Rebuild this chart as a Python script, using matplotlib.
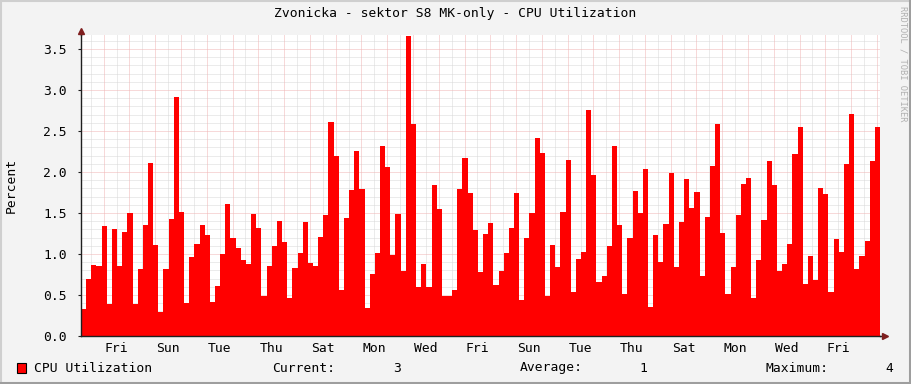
import numpy as np
import matplotlib
matplotlib.use("Agg")
import matplotlib.pyplot as plt
from matplotlib.lines import Line2D
from matplotlib.patches import Rectangle

# ---------------- data ----------------
title = "Zvonicka - sektor S8 MK-only - CPU Utilization"
cpu = [
    0.33, 0.70, 0.87, 0.85, 1.34, 0.39, 1.30, 0.85, 1.27, 1.50, 0.39, 0.82, 1.35, 2.11, 1.11,
    0.29, 0.82, 1.43, 2.91, 1.51, 0.40, 0.96, 1.12, 1.35, 1.23, 0.41, 0.61,
    1.00, 1.61, 1.19, 1.07, 0.93, 0.88, 1.49, 1.32, 0.49, 0.85, 1.10, 1.40, 1.15, 0.46, 0.83,
    1.01, 1.39, 0.89, 0.85, 1.21, 1.48, 2.61, 2.20, 0.56, 1.44, 1.78,
    2.26, 1.79, 0.34, 0.76, 1.01, 2.32, 2.06, 0.99, 1.49, 0.79, 3.66, 2.59, 0.60, 0.88, 0.60,
    1.84, 1.55, 0.49, 0.49, 0.56, 1.79, 2.17, 1.74, 1.29, 0.78, 1.24,
    1.38, 0.62, 0.79, 1.01, 1.32, 1.74, 0.44, 1.19, 1.50, 2.41, 2.23, 0.49, 1.11, 0.84, 1.51,
    2.15, 0.54, 0.94, 1.02, 2.76, 1.96, 0.66, 0.73, 1.10, 2.32, 1.35,
    0.51, 1.19, 1.77, 1.50, 2.04, 0.35, 1.23, 0.90, 1.37, 1.99, 0.84, 1.39, 1.91, 1.56, 1.76,
    0.73, 1.45, 2.07, 2.59, 1.26, 0.51, 0.84, 1.48, 1.85, 1.93, 0.46,
    0.93, 1.41, 2.13, 1.84, 0.79, 0.88, 1.12, 2.22, 2.55, 0.63, 0.98, 0.68, 1.80, 1.73, 0.54,
    1.18, 1.02, 2.10, 2.71, 0.82, 0.98, 1.16, 2.13, 2.55,
]
step_days = 0.2                      # one sample every 4.8 hours
first_midnight = 0.88                # first Friday 00:00, in days from start
day_labels = ["Fri", "Sun", "Tue", "Thu", "Sat", "Mon", "Wed", "Fri",
              "Sun", "Tue", "Thu", "Sat", "Mon", "Wed", "Fri"]
y_ticks = [0.0, 0.5, 1.0, 1.5, 2.0, 2.5, 3.0, 3.5]
legend_name = "CPU Utilization"
cur_val, avg_val, max_val = "3", "1", "4"

# ---------------- figure ----------------
W, H = 911, 384
fig = plt.figure(figsize=(W / 100, H / 100), dpi=100, facecolor="#F3F3F3")
mono = "DejaVu Sans Mono"
fs = 9.4

L, R, B, T = 81, 880, 336, 35
ax = fig.add_axes([L / W, 1 - B / H, (R - L) / W, (B - T) / H])
ax.set_facecolor("white")

n = len(cpu)
edges = np.arange(n + 1) * step_days
ax.stairs(cpu, edges, fill=True, color="#FF0000", linewidth=0)

ax.set_xlim(0, n * step_days)
ax.set_ylim(0, 3.67)

# grid
px = 0.72
minor_col = "#d8d8d8"
major_col = "#f0b4b4"
xmax = n * step_days
mx = first_midnight - 0.5
while mx < xmax:
    if mx > 0:
        ax.axvline(mx, color=minor_col, lw=px, ls=(0, (1, 1)), zorder=0.5)
    mx += 1.0
mj = first_midnight
while mj < xmax:
    ax.axvline(mj, color=major_col, lw=px, ls=(0, (1, 1)), zorder=0.6)
    mj += 1.0
for k in range(1, 37):
    yv = k * 0.1
    if k % 5 == 0:
        ax.axhline(yv, color=major_col, lw=px, ls=(0, (1, 1)), zorder=0.6)
    else:
        ax.axhline(yv, color=minor_col, lw=px, ls=(0, (1, 1)), zorder=0.5)

# ticks
label_pos = [first_midnight + 0.5 + 2 * i for i in range(len(day_labels))]
ax.set_xticks(label_pos)
ax.set_xticklabels(day_labels, family=mono, fontsize=fs)
ax.tick_params(axis="x", length=0, pad=4)
ax.set_yticks(y_ticks)
ax.set_yticklabels([f"{v:.1f}" for v in y_ticks], family=mono, fontsize=fs)
ax.tick_params(axis="y", length=2, width=0.8, color="#1F1F1F", pad=8)

for s in ["top", "right"]:
    ax.spines[s].set_visible(False)
for s in ["left", "bottom"]:
    ax.spines[s].set_color("#1F1F1F")
    ax.spines[s].set_linewidth(1.0)

# axis extensions & arrows
tr = fig.transFigure
fig.add_artist(Line2D([R / W, 885 / W], [1 - B / H, 1 - B / H], color="#1F1F1F", lw=1.0, transform=tr))
fig.add_artist(Line2D([L / W, L / W], [1 - T / H, 1 - 31 / H], color="#1F1F1F", lw=1.0, transform=tr))
fig.add_artist(Line2D([885 / W], [1 - B / H], marker=">", markersize=5, color="#7F1F1F", transform=tr))
fig.add_artist(Line2D([L / W], [1 - 31 / H], marker="^", markersize=5, color="#7F1F1F", transform=tr))

# texts
fig.text(455 / W, 1 - 14 / H, title, family=mono, fontsize=fs, ha="center", va="center")
fig.text(11 / W, 1 - 185 / H, "Percent", family=mono, fontsize=fs, rotation=90, ha="center", va="center")
fig.text(903 / W, 1 - 6 / H, "RRDTOOL / TOBI OETIKER", family=mono, fontsize=6.3,
         rotation=270, ha="center", va="top", color="#b0b0b0")

ly = 1 - 368 / H
fig.add_artist(Rectangle((17 / W, 1 - 373 / H), 9 / W, 10 / H, facecolor="#FF0000",
                         edgecolor="black", lw=0.8, transform=tr))
fig.text(34 / W, ly, legend_name, family=mono, fontsize=fs, va="center")
fig.text(272 / W, ly, "Current:", family=mono, fontsize=fs, va="center")
fig.text(397 / W, ly, cur_val, family=mono, fontsize=fs, va="center", ha="center")
fig.text(520 / W, ly, "Average:", family=mono, fontsize=fs, va="center")
fig.text(643 / W, ly, avg_val, family=mono, fontsize=fs, va="center", ha="center")
fig.text(765 / W, ly, "Maximum:", family=mono, fontsize=fs, va="center")
fig.text(889 / W, ly, max_val, family=mono, fontsize=fs, va="center", ha="center")

# 3D border
fig.add_artist(Line2D([0, 1], [1 - 0.5 / H, 1 - 0.5 / H], color="#CFCFCF", lw=1.5, transform=tr))
fig.add_artist(Line2D([0.5 / W, 0.5 / W], [0, 1], color="#CFCFCF", lw=1.5, transform=tr))
fig.add_artist(Line2D([0, 1], [1 / H, 1 / H], color="#9E9E9E", lw=2.2, transform=tr))
fig.add_artist(Line2D([1 - 1 / W, 1 - 1 / W], [0, 1], color="#9E9E9E", lw=2.2, transform=tr))

fig.savefig("out.png", dpi=100, facecolor=fig.get_facecolor())
